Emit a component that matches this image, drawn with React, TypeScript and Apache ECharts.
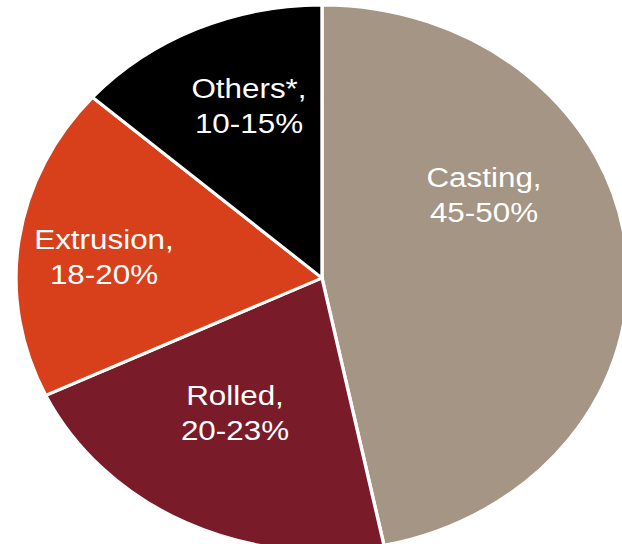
import React, { useEffect, useRef } from "react";
import * as echarts from "echarts";

const categories = ["Casting", "Rolled", "Extrusion", "Others*"];
const rangeLabels = ["45-50%", "20-23%", "18-20%", "10-15%"];
const shares = [46.8, 21.2, 18.6, 13.5];
const colors = ["#A49584", "#7A1B29", "#D8401B", "#000000"];

const STRETCH = 1.121;
const PAGE_W = 622;
const PAGE_H = 544;
const DIV_W = Math.round(PAGE_W / STRETCH);
// label anchor positions (page coords)
const labelAnchors: [number, number][] = [
  [484, 195],
  [235, 413],
  [104, 257],
  [249, 106],
];

export default function App() {
  const ref = useRef<HTMLDivElement>(null);
  useEffect(() => {
    if (!ref.current) return;
    const chart = echarts.init(ref.current, undefined, { renderer: "svg" });
    chart.setOption({
      animation: false,
      series: [
        {
          type: "pie",
          center: [322 / STRETCH, 278],
          radius: 273,
          startAngle: 90,
          clockwise: true,
          avoidLabelOverlap: false,
          itemStyle: { borderColor: "#ffffff", borderWidth: 3 },
          label: {
            show: true,
            position: "inside",
            color: "#ffffff",
            fontFamily: "Liberation Sans, Arial, sans-serif",
            fontSize: 28,
            lineHeight: 35,
            formatter: (p: any) => `${p.name},\n${rangeLabels[p.dataIndex]}`,
          },
          labelLine: { show: false },
          labelLayout: (p: any) => ({
            x: labelAnchors[p.dataIndex][0] / STRETCH,
            y: labelAnchors[p.dataIndex][1],
            align: "center",
            verticalAlign: "middle",
          }),
          emphasis: { disabled: true },
          data: categories.map((c, i) => ({
            name: c,
            value: shares[i],
            itemStyle: { color: colors[i] },
          })),
        },
      ],
    });
    return () => chart.dispose();
  }, []);
  return (
    <div
      style={{
        position: "absolute",
        left: 0,
        top: 0,
        width: PAGE_W,
        height: PAGE_H,
        overflow: "hidden",
        background: "#ffffff",
      }}
    >
      <div
        ref={ref}
        style={{
          width: DIV_W,
          height: PAGE_H,
          transform: `scaleX(${STRETCH})`,
          transformOrigin: "0 0",
        }}
      />
    </div>
  );
}
